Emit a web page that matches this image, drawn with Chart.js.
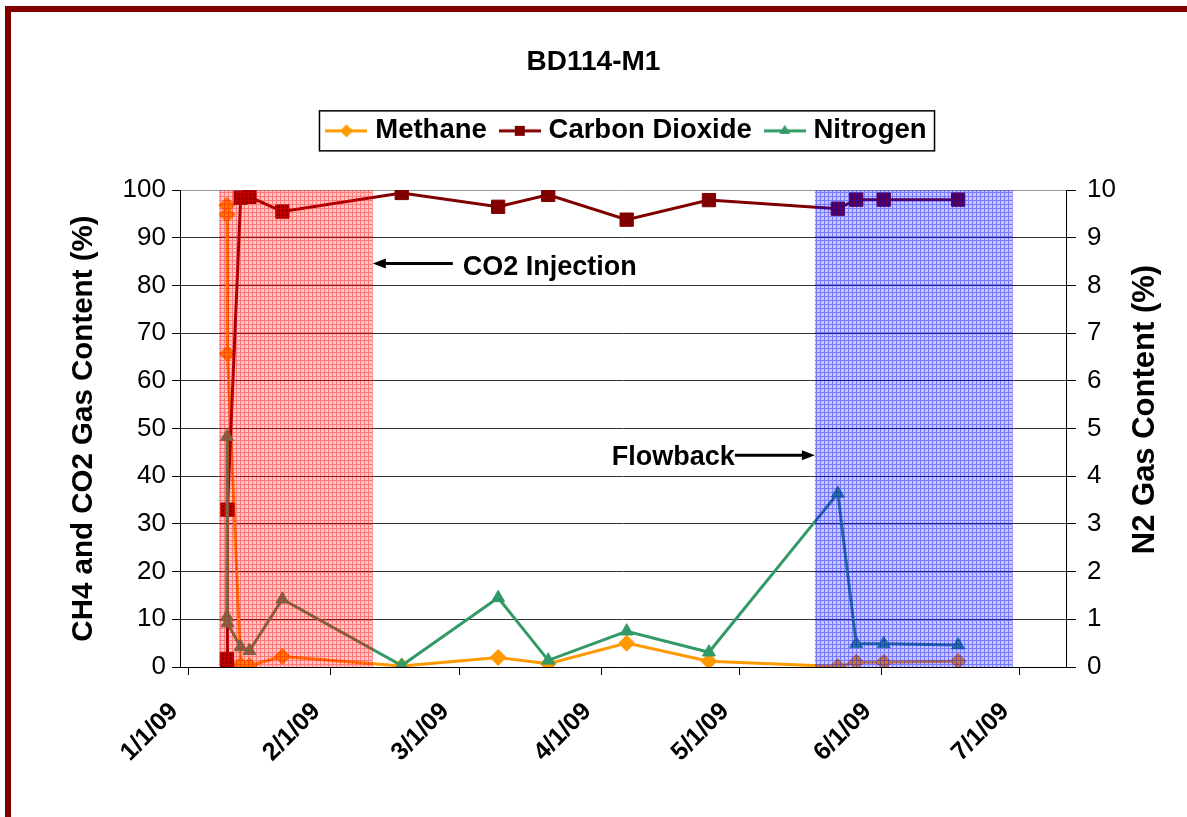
<!DOCTYPE html>
<html><head><meta charset="utf-8">
<script src="https://cdn.jsdelivr.net/npm/chart.js@4.4.1/dist/chart.umd.min.js"></script>
<style>html,body{margin:0;padding:0;background:#fff;} #wrap{width:1187px;height:817px;position:relative;}</style>
</head><body><div id="wrap"><canvas id="c" width="1187" height="817"></canvas></div>
<script>
const FONT = "'Liberation Sans', Arial, Helvetica, sans-serif";

// ---- data ----
const chartTitle = 'BD114-M1';
const seriesNames = ['Methane', 'Carbon Dioxide', 'Nitrogen'];
const sampleDates = [
  '2009-01-09T10:00', '2009-01-09T11:00', '2009-01-09T13:00', '2009-01-12T10:00', '2009-01-14T08:00',
  '2009-01-21T12:00', '2009-02-16T12:00', '2009-03-09T12:00', '2009-03-20T10:00', '2009-04-06T12:00',
  '2009-04-24T10:00', '2009-05-22T12:00', '2009-05-26T12:00', '2009-06-01T12:00', '2009-06-17T17:00'
];
const methane       = [96.8, 94.9, 65.7, 0.5, 0.3, 2.2, 0.2, 2.0, 0.7, 5.0, 1.2, 0.1, 1.0, 1.0, 1.2];
const carbonDioxide = [1.7, 0.0, 33.0, 98.4, 98.6, 95.5, 99.4, 96.5, 99.0, 93.8, 97.9, 96.1, 98.0, 98.0, 98.0];
const nitrogen      = [1.05, 4.83, 0.92, 0.42, 0.34, 1.42, 0.03, 1.45, 0.14, 0.75, 0.31, 3.64, 0.49, 0.49, 0.46];
const tickDates  = ['2009-01-01', '2009-02-01', '2009-03-01', '2009-04-01', '2009-05-01', '2009-06-01', '2009-07-01'];
const tickLabels = ['1/1/09', '2/1/09', '3/1/09', '4/1/09', '5/1/09', '6/1/09', '7/1/09'];
const axisRange  = ['2008-12-30T04:48', '2009-07-11T04:48'];
const injectionPeriod = ['2009-01-07T16:48', '2009-02-10T04:48'];
const flowbackPeriod  = ['2009-05-17T12:00', '2009-06-29T14:24'];
const injectionLabel = 'CO2 Injection';
const flowbackLabel = 'Flowback';
const leftAxisTitle = 'CH4 and CO2 Gas Content (%)';
const rightAxisTitle = 'N2 Gas Content (%)';
const colors = ['#FF9900', '#800000', '#339966'];

function toDay(s) {
  const [d, t] = s.split('T');
  const [Y, M, D] = d.split('-').map(Number);
  const [h, m] = (t || '00:00').split(':').map(Number);
  return (Date.UTC(Y, M - 1, D, h, m) - Date.UTC(2009, 0, 1)) / 864e5;
}
const xDays = sampleDates.map(toDay);
const tickDays = tickDates.map(toDay);
const pts = arr => arr.map((v, i) => ({x: xDays[i], y: v}));

function legendIcon(color, style) {
  const c = document.createElement('canvas'); c.width = 42; c.height = 20;
  const g = c.getContext('2d');
  g.strokeStyle = color; g.fillStyle = color; g.lineWidth = 3;
  g.beginPath(); g.moveTo(0, 10); g.lineTo(42, 10); g.stroke();
  g.beginPath();
  if (style === 'diamond') { g.moveTo(21, 3.5); g.lineTo(27.5, 10); g.lineTo(21, 16.5); g.lineTo(14.5, 10); }
  else if (style === 'square') { g.rect(16, 5, 10, 10); }
  else { g.moveTo(21, 4); g.lineTo(26.5, 13); g.lineTo(15.5, 13); }
  g.closePath(); g.fill();
  return c;
}
const icons = [legendIcon(colors[0], 'diamond'), legendIcon(colors[1], 'square'), legendIcon(colors[2], 'tri')];

function makePattern(ctx, rgb) {
  const c = document.createElement('canvas'); c.width = 4; c.height = 4;
  const g = c.getContext('2d');
  g.fillStyle = `rgba(${rgb},0.22)`; g.fillRect(0, 0, 4, 4);
  g.fillStyle = `rgba(${rgb},0.4)`; g.fillRect(0, 0, 4, 1); g.fillRect(0, 1, 1, 3);
  return ctx.createPattern(c, 'repeat');
}

function arrow(ctx, x1, y, x2) {
  const dir = Math.sign(x2 - x1), head = 13;
  ctx.beginPath(); ctx.moveTo(x1, y); ctx.lineTo(x2 - dir * head + dir, y); ctx.stroke();
  ctx.beginPath(); ctx.moveTo(x2, y); ctx.lineTo(x2 - dir * head, y - 5); ctx.lineTo(x2 - dir * head, y + 5); ctx.closePath(); ctx.fill();
}

const overlay = {
  id: 'overlay',
  beforeLayout(chart) {
    const lg = chart.legend;
    if (lg && !lg._extra) {
      const f = lg.fit.bind(lg);
      lg.fit = function () { f(); this.height += 35.5; };
      lg._extra = true;
    }
  },
  afterLayout(chart) {
    const lg = chart.legend;
    if (lg) { lg.left += 6; lg.right += 6; }
  },
  beforeDraw(chart) {
    const ctx = chart.ctx;
    ctx.save(); ctx.fillStyle = '#fff'; ctx.fillRect(0, 0, chart.width, chart.height);
    ctx.fillStyle = '#800000';
    ctx.fillRect(5, 6, 6, 811); ctx.fillRect(5, 6, 1182, 6);
    ctx.restore();
  },
  afterDatasetsDraw(chart) {
    const ctx = chart.ctx, a = chart.chartArea, xs = chart.scales.x;
    ctx.save(); ctx.beginPath(); ctx.rect(a.left, a.top, a.width, a.height); ctx.clip();
    [[injectionPeriod, makePattern(ctx, '255,0,0')], [flowbackPeriod, makePattern(ctx, '0,0,255')]].forEach(([p, pat]) => {
      const x1 = xs.getPixelForValue(toDay(p[0])), x2 = xs.getPixelForValue(toDay(p[1]));
      ctx.fillStyle = pat; ctx.fillRect(x1, a.top, x2 - x1, a.height);
    });
    ctx.restore();
  },
  afterDraw(chart) {
    const ctx = chart.ctx, a = chart.chartArea, xs = chart.scales.x, ys = chart.scales.y;
    ctx.save();
    // legend border
    const hb = chart.legend.legendHitBoxes;
    if (hb && hb.length) {
      const f = hb[0], l = hb[hb.length - 1], cy = f.top + f.height / 2;
      ctx.strokeStyle = '#000'; ctx.lineWidth = 1.5;
      ctx.strokeRect(f.left - 12, cy - 20, (l.left + l.width + 8) - (f.left - 12), 40);
    }
    // annotations
    ctx.font = `bold 27px ${FONT}`; ctx.fillStyle = '#000'; ctx.strokeStyle = '#000'; ctx.lineWidth = 3;
    const yI = ys.getPixelForValue(84.6), tipI = xs.getPixelForValue(toDay(injectionPeriod[1]));
    arrow(ctx, tipI + 80, yI, tipI);
    ctx.textAlign = 'left'; ctx.textBaseline = 'alphabetic';
    ctx.fillText(injectionLabel, tipI + 90, yI + 11.5);
    const yF = ys.getPixelForValue(44.4), tipF = xs.getPixelForValue(toDay(flowbackPeriod[0]));
    arrow(ctx, tipF - 80, yF, tipF);
    ctx.textAlign = 'right';
    ctx.fillText(flowbackLabel, tipF - 80, yF + 9.5);
    // right axis title
    ctx.translate(a.right + 79, (a.top + a.bottom) / 2 - 19);
    ctx.rotate(-Math.PI / 2);
    ctx.textAlign = 'center'; ctx.textBaseline = 'middle';
    ctx.font = `bold 31px ${FONT}`;
    ctx.fillText(rightAxisTitle, 0, 0);
    ctx.restore();
  }
};

Chart.defaults.font.family = FONT;
Chart.defaults.color = '#000';

new Chart(document.getElementById('c'), {
  type: 'line',
  data: {
    datasets: [
      {label: seriesNames[0], data: pts(methane), yAxisID: 'y', order: 3,
       borderColor: colors[0], backgroundColor: colors[0], borderWidth: 3,
       pointStyle: 'rectRot', pointRadius: 8, pointBorderWidth: 1},
      {label: seriesNames[1], data: pts(carbonDioxide), yAxisID: 'y', order: 2,
       borderColor: colors[1], backgroundColor: colors[1], borderWidth: 3,
       pointStyle: 'rect', pointRadius: 9.4, pointBorderWidth: 1},
      {label: seriesNames[2], data: pts(nitrogen), yAxisID: 'y2', order: 1,
       borderColor: colors[2], backgroundColor: colors[2], borderWidth: 3,
       pointStyle: 'triangle', pointRadius: 7.5, pointBorderWidth: 1}
    ]
  },
  options: {
    responsive: false, animation: false, events: [],
    layout: {padding: 0},
    scales: {
      x: {
        type: 'linear', position: 'bottom', min: toDay(axisRange[0]), max: toDay(axisRange[1]),
        afterBuildTicks: s => { s.ticks = tickDays.map(v => ({value: v})); },
        afterFit: s => { s.height = 150; },
        ticks: {callback: (v, i) => tickLabels[i], autoSkip: false, maxRotation: 45, minRotation: 45,
                font: {size: 25, weight: 'bold'}, color: '#000', padding: 22, labelOffset: -14},
        grid: {drawOnChartArea: false, drawTicks: true, tickLength: 8, color: '#000'},
        border: {color: '#000', width: 1}
      },
      y: {
        position: 'left', min: 0, max: 100,
        afterFit: s => { s.width = 180; },
        ticks: {stepSize: 10, font: {size: 26}, color: '#000', padding: 6},
        grid: {color: c => c.tick && c.tick.value === 100 ? '#999' : '#333', tickColor: '#000', tickLength: 8, lineWidth: 1},
        border: {color: '#000', width: 1},
        title: {display: true, text: leftAxisTitle, font: {size: 29.5, weight: 'bold'}, color: '#000', padding: {top: 66, bottom: 0}}
      },
      y2: {
        position: 'right', min: 0, max: 10,
        afterFit: s => { s.width = 121; },
        ticks: {stepSize: 1, font: {size: 26}, color: '#000', padding: 11},
        grid: {drawOnChartArea: false, tickLength: 10, color: '#000'},
        border: {color: '#000', width: 1}
      }
    },
    plugins: {
      title: {display: true, text: chartTitle, font: {size: 28, weight: 'bold'}, color: '#000', padding: {top: 45.2, bottom: 20.3}},
      legend: {
        display: true, position: 'top', fullSize: false,
        labels: {
          usePointStyle: true, pointStyleWidth: 30, padding: 18, color: '#000',
          font: {size: 27.5, weight: 'bold'},
          generateLabels: chart => chart.data.datasets.map((d, i) => ({
            text: d.label, pointStyle: icons[i], datasetIndex: i, hidden: false,
            fillStyle: 'transparent', strokeStyle: 'transparent', lineWidth: 0, fontColor: '#000'}))
        }
      },
      tooltip: {enabled: false}
    }
  },
  plugins: [overlay]
});
</script></body></html>
